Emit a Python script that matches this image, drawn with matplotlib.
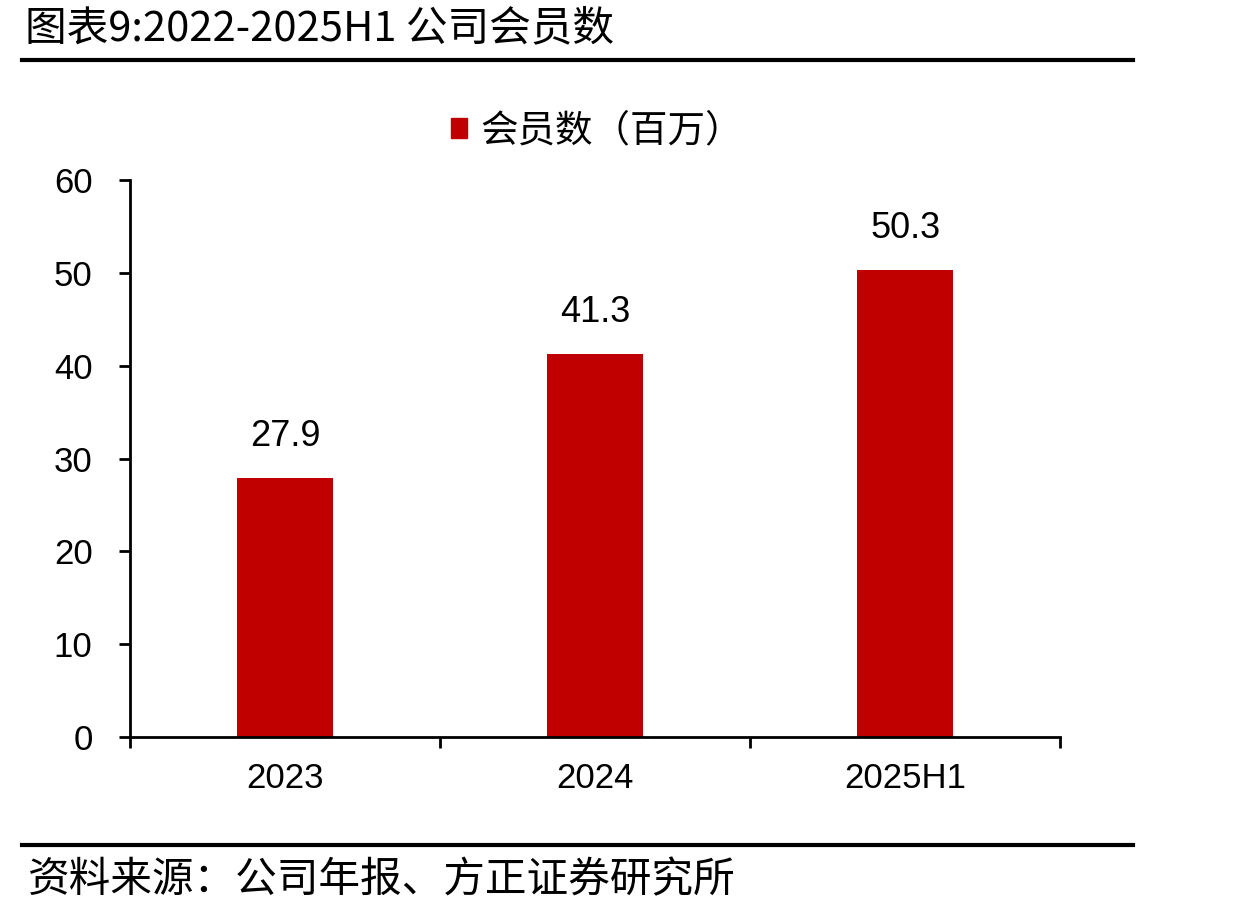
import matplotlib
matplotlib.use('Agg')
import matplotlib.pyplot as plt
from matplotlib.lines import Line2D
from matplotlib.patches import Patch

plt.rcParams['font.family'] = ['Liberation Sans', 'Noto Sans CJK SC', 'DejaVu Sans']

categories = ['2023', '2024', '2025H1']
members = [27.9, 41.3, 50.3]
yticks = [0, 10, 20, 30, 40, 50, 60]

title = '图表9:2022-2025H1 公司会员数'
legend_label = '会员数（百万）'
source = '资料来源：公司年报、方正证券研究所'
bar_color = '#C00000'

fig = plt.figure(figsize=(12.59, 9.15), dpi=100)
ax = fig.add_axes([0.1033, 0.1945, 0.7387, 0.6088])

x = list(range(len(categories)))
ax.bar(x, members, width=0.31, color=bar_color, label=legend_label, zorder=2)
for xi, v in zip(x, members):
    ax.annotate(f'{v:.1f}', (xi, v), xytext=(0, 17), textcoords='offset points',
                ha='center', va='bottom', fontsize=26)

ax.set_xlim(-0.5, len(categories) - 0.5)
ax.set_ylim(0, 60)
ax.set_yticks(yticks)
ax.set_xticks([i - 0.5 for i in range(len(categories) + 1)])
ax.set_xticklabels([])
ax.set_xticks(x, minor=True)
ax.set_xticklabels(categories, minor=True)
ax.tick_params(axis='x', which='major', direction='out', length=8, width=2)
ax.tick_params(axis='x', which='minor', length=0, pad=18, labelsize=25)
ax.tick_params(axis='y', direction='out', length=8, width=2, labelsize=25, pad=19)
for s in ['top', 'right']:
    ax.spines[s].set_visible(False)
for s in ['left', 'bottom']:
    ax.spines[s].set_linewidth(2)

leg = fig.legend(handles=[Patch(color=bar_color, label=legend_label)],
                 loc='center', bbox_to_anchor=(0.474, 0.857), frameon=False,
                 handlelength=0.45, handleheight=0.45, handletextpad=0.35,
                 prop={'family': ['Noto Sans CJK SC'], 'size': 27})

fig.text(0.02, 0.968, title, fontsize=30, va='center', ha='left',
         family=['Noto Sans CJK SC'])
fig.add_artist(Line2D([0.0175, 0.9], [0.934, 0.934], color='black', lw=3))
fig.add_artist(Line2D([0.0175, 0.9], [0.0765, 0.0765], color='black', lw=3))
fig.text(0.022, 0.037, source, fontsize=30, va='center', ha='left',
         family=['Noto Sans CJK SC'], style='italic')

fig.savefig('out.png', dpi=100)
